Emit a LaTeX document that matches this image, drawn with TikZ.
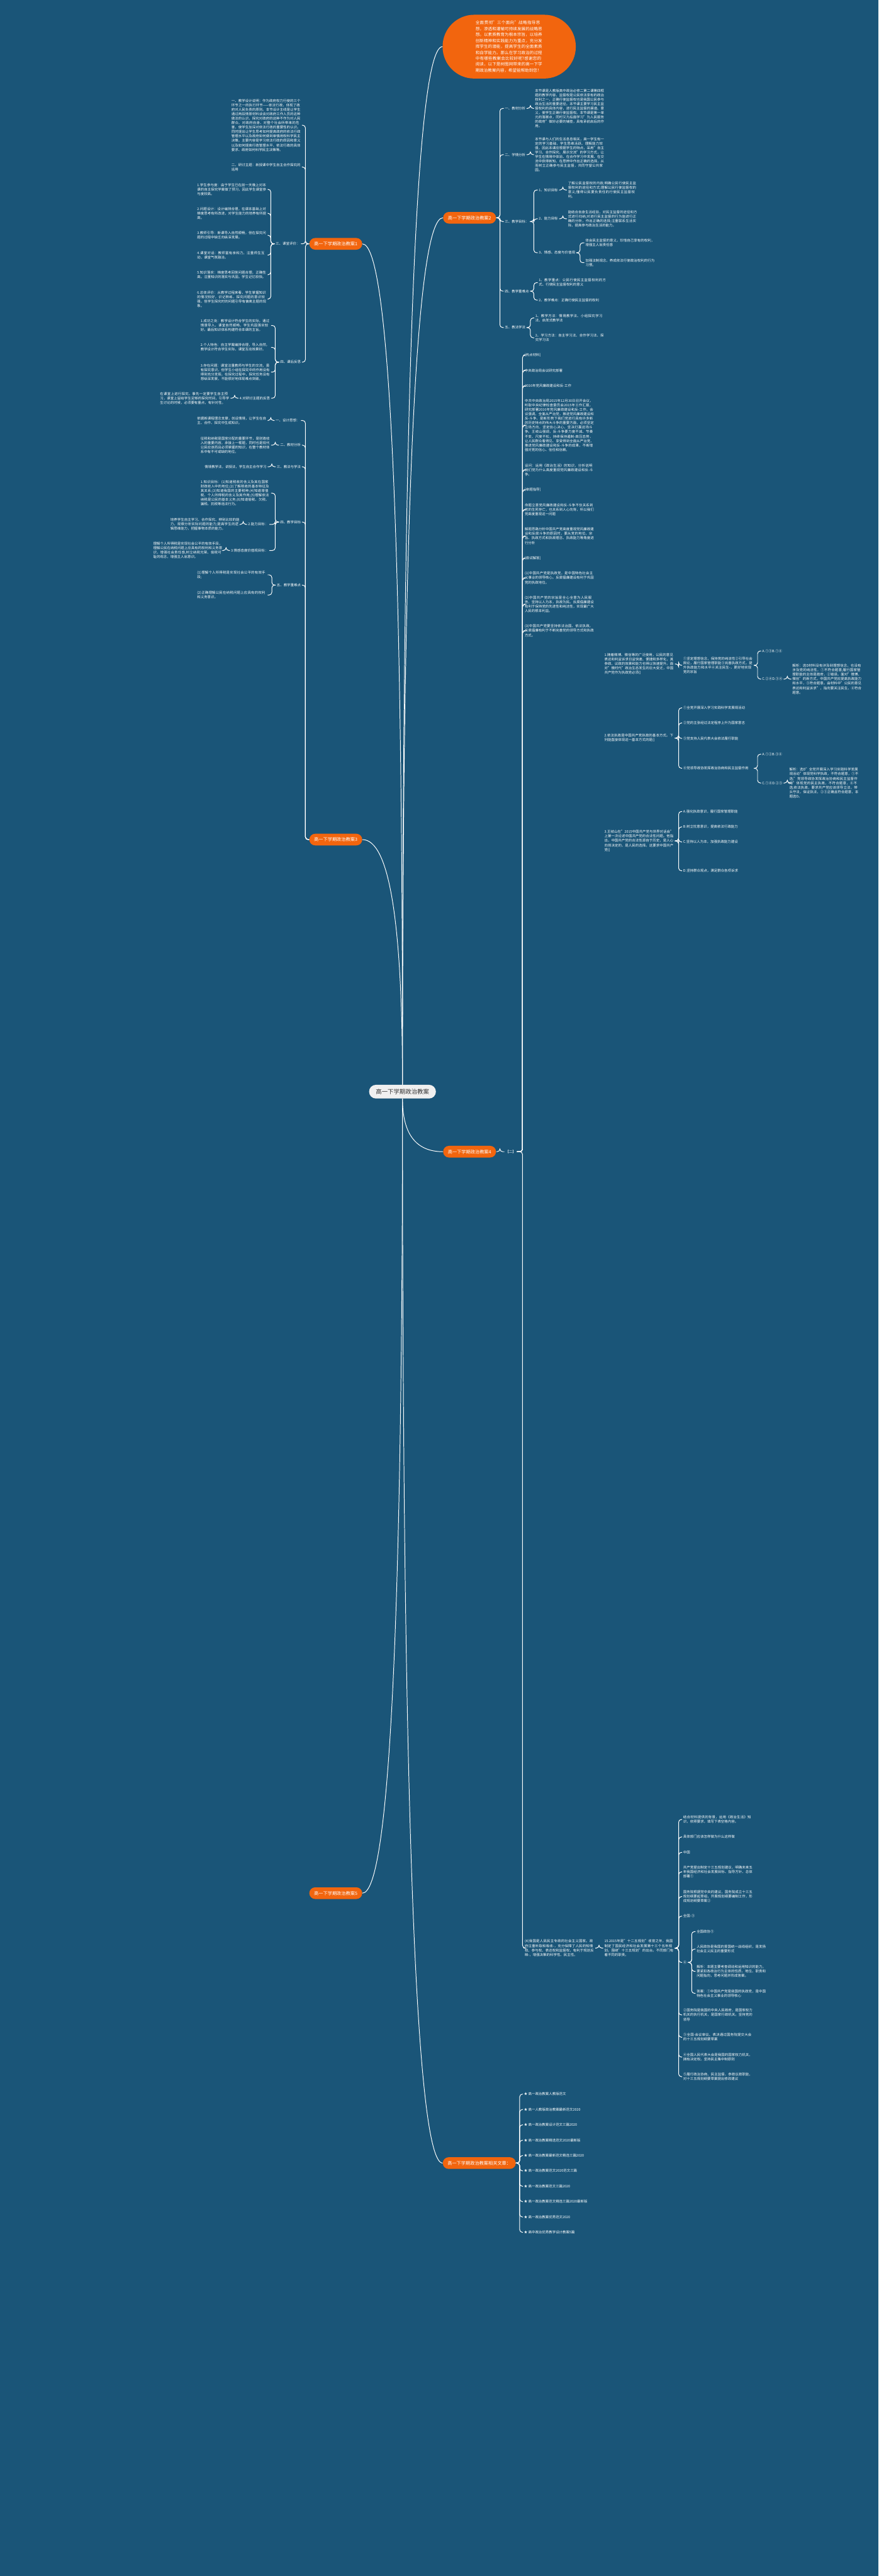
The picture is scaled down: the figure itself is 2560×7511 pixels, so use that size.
\documentclass[tikz,border=0pt]{standalone}
\usepackage{fontspec}
\setmainfont{Noto Sans CJK SC}
\XeTeXlinebreaklocale "zh"
\XeTeXlinebreakskip=0pt plus 1pt
\usetikzlibrary{calc,positioning}

\definecolor{mapbg}{RGB}{26,85,120}
\definecolor{mmorange}{RGB}{242,101,14}
\definecolor{hubgray}{RGB}{240,240,240}
\definecolor{hubtext}{RGB}{51,51,51}

\newcommand\leaffont{\fontsize{5}{6.5}\selectfont}
\newcommand\brfont{\fontsize{6.6}{8}\selectfont}
\newcommand\hubfont{\fontsize{8.6}{10}\selectfont}
\newcommand\bubfont{\fontsize{6}{8.65}\selectfont}

\tikzset{
  link/.style={draw=white, line width=0.9pt, rounded corners=4pt},
  curve/.style={draw=white, line width=0.9pt},
  tag/.style={text=white, font=\leaffont, inner xsep=1.5pt, inner ysep=0pt},
  leaf/.style={tag, align=left, text width=101pt},
  branch/.style={fill=mmorange, text=white, font=\brfont, rounded corners=8.5pt,
    minimum height=17pt, inner xsep=7pt},
  hubnode/.style={fill=hubgray, text=hubtext, font=\hubfont, rounded corners=10pt,
    minimum height=20pt, inner xsep=10pt},
  bubble/.style={fill=mmorange, text=white, font=\bubfont, rounded corners=46pt,
    minimum width=194pt, minimum height=93pt, align=left, text width=98pt},
}

% elbow links: parent -> child, right and left
\newcommand\linkR[3][11]{\draw[link] (#2.east) -- ++(#1,0) |- (#3.west);}
\newcommand\linkL[3][11]{\draw[link] (#2.west) -- ++(-#1,0) |- (#3.east);}
% curved link from the hub
\newcommand\hubto[2]{%
  \coordinate (hk) at (hub.center |- #2);
  \draw[curve] (#1) .. controls ($(#1)!2/3!(hk)$) and ($(#2)!2/3!(hk)$) .. (#2);}

\begin{document}
\begin{tikzpicture}[x=0.5pt, y=-0.5pt]
\fill[mapbg] (0,0) rectangle (2560,7511);
\useasboundingbox (0,0) rectangle (2560,7511);

% hub and main branches
\node[hubnode] (hub) at (1173,3183) {高一下学期政治教案};
\node[bubble] (bub) at (1484,136) {全面贯彻"三个面向"战略指导思想，渗透和灌输可持续发展的战略思想。以素质教育为根本宗旨，以培养创新精神和实践能力为重点，充分发挥学生的潜能，提高学生的全面素质和自学能力。那么在学习政治的过程中有哪些教案会比较好呢?感谢您的阅读，以下是树图网带来的高一下学期政治教案内容，希望能帮助到您！};
\node[branch, anchor=west] (b2) at (1291,635) {高一下学期政治教案2};
\node[branch, anchor=east] (b1) at (1056,711) {高一下学期政治教案1};
\node[branch, anchor=east] (b3) at (1056,2448) {高一下学期政治教案3};
\node[branch, anchor=west] (b4) at (1291,3358) {高一下学期政治教案4};
\node[branch, anchor=east] (b5) at (1056,5520) {高一下学期政治教案5};
\node[branch, anchor=west] (rel) at (1290,6307) {高一下学期政治教案相关文章：};

\hubto{hub.north}{bub.west}
\hubto{hub.north}{b2.west}
\hubto{hub.north}{b1.east}
\hubto{hub.north}{b3.east}
\hubto{hub.south}{b4.west}
\hubto{hub.south}{b5.east}
\hubto{hub.south}{rel.west}

% ---- branch 2
\node[tag, anchor=west] (b2a) at (1468,316) {一、教材分析};
\node[leaf, anchor=west] (b2a1) at (1556,316) {本节课是人教版高中政治必修二第二课第四框题的教学内容。监督权是公民依法享有的政治权利之一，正确行使监督权也是我国公民参与政治生活的重要途径。本节课主要学习民主监督权利的具体内容，进行民主监督的渠道、意义，使学生正确行使监督权。本节课是第一单元的落脚点，同时又为后面学习"为人民服务的政府"做好必要的铺垫，具有承前启后的作用。};
\node[tag, anchor=west] (b2b) at (1468,451) {二、学情分析};
\node[leaf, anchor=west] (b2b1) at (1556,451) {本节课与人们的生活息息相关，高一学生有一定的学习基础，学生思维活跃、理解能力较强，因此本课应根据学生的特点，采用"自主学习、合作探究、展示交流"的学习方式，让学生在情境中体验、在合作学习中发展、在交流中获得新知、在思辨中作出正确的选择，从而树立正确参与民主监督，共同守望公共家园。};
\node[tag, anchor=west] (b2c) at (1468,646) {三、教学目标：};
\node[tag, anchor=west] (b2c1) at (1567,554) {1、知识目标};
\node[leaf, anchor=west] (b2c1a) at (1652,554) {了解公民监督权的内容;明确公民行使民主监督权利的途径和方式;理解公民行使监督权的意义;懂得公民要负责任的行使民主监督权利。};
\node[tag, anchor=west] (b2c2) at (1567,638) {2、能力目标};
\node[leaf, anchor=west] (b2c2a) at (1652,638) {能结合自身生活经验，对民主监督的途径和方式进行归纳;对进行民主监督的行为能进行正确的分析，作出正确的选择;注重联系生活实际，提高参与政治生活的能力。};
\node[tag, anchor=west] (b2c3) at (1567,737) {3、情感、态度与价值观};
\node[leaf, anchor=west] (b2c3a) at (1703,708) {体会民主监督的意义，珍惜自己享有的权利，增强主人翁责任感};
\node[leaf, anchor=west] (b2c3b) at (1703,766) {加强法制观念，养成依法行使政治权利的行为习惯。};
\node[tag, anchor=west] (b2d) at (1468,849) {四、教学重难点};
\node[leaf, anchor=west] (b2d1) at (1567,824) {1、教学重点：公民行使民主监督权利的方式、行使民主监督权利的意义};
\node[leaf, anchor=west] (b2d2) at (1567,875) {2、教学难点：正确行使民主监督的权利};
\node[tag, anchor=west] (b2e) at (1468,955) {五、教法学法};
\node[leaf, anchor=west] (b2e1) at (1557,927) {1、教学方法：情境教学法、小组探究学习法、启发式教学法};
\node[leaf, anchor=west] (b2e2) at (1557,985) {2、学习方法：自主学习法、合作学习法、探究学习法};

\foreach \c in {b2a,b2b,b2c,b2d,b2e} {\linkR{b2}{\c}}
\linkR{b2a}{b2a1}
\linkR{b2b}{b2b1}
\foreach \c in {b2c1,b2c2,b2c3} {\linkR{b2c}{\c}}
\linkR{b2c1}{b2c1a}
\linkR{b2c2}{b2c2a}
\linkR{b2c3}{b2c3a}
\linkR{b2c3}{b2c3b}
\linkR{b2d}{b2d1}
\linkR{b2d}{b2d2}
\linkR{b2e}{b2e1}
\linkR{b2e}{b2e2}

% ---- branch 1
\node[leaf, anchor=east] (b1a) at (880,365) {一、教学设计说明：作为政府权力行使的三个环节之一的执行环节——依法行政，体现了政府对人民负责的原则。本节设计主线是让学生通过两段情景材料谈谈对政府工作人员的这种做法的认识，探究对政府的这种不作为对人民群众、对政府自身、对整个社会所带来的危害，使学生加深对依法行政的重要性的认识。同时提出让学生思考如何提高政府的依法行政管理水平以及政府如何做到审慎用权科学民主决策。主要内容是学习依法行政的原因和意义以及如何提高行政管理水平、依法行政的具体要求、政府如何科学民主决策等。};
\node[leaf, anchor=east] (b1b) at (880,487) {二、研讨主题：新授课中学生自主合作探究的运用};
\node[tag, anchor=east] (b1c) at (877,711) {三、课堂评价：};
\node[leaf, anchor=east] (b1c1) at (780,552) {1.学生参与度：由于学生已在前一天晚上对本课的自主探究学案做了预习，因此学生课堂参与度较高。};
\node[leaf, anchor=east] (b1c2) at (780,622) {2.问题设计：设计编排合理，在课本基础上对梯度思考有所改进，对学生能力的培养有所提高。};
\node[leaf, anchor=east] (b1c3) at (780,686) {3.教师引导：新课导入自然顺畅，但在探究问题的过程中缺乏向纵深发展。};
\node[leaf, anchor=east] (b1c4) at (780,744) {4.课堂对话：教师富有亲和力，注重师生互动，课堂气氛融洽。};
\node[leaf, anchor=east] (b1c5) at (780,801) {5.知识落实：梯度思考回答问题合理，正确性高。注重知识的落实与巩固。学生记忆较快。};
\node[leaf, anchor=east] (b1c6) at (780,872) {6.总体评价：从教学过程来看，学生掌握知识的情况较好，识记熟练，探究问题的意识较强，但学生探究时的问题引导有偏离主题的现象。};
\node[tag, anchor=east] (b1d) at (880,1056) {四、课后反思};
\node[leaf, anchor=east] (b1d1) at (790,949) {1.成功之处：教学设计符合学生的实际，通过情景导入，课堂自然顺畅，学生巩固落实较好。最后知识体系构建符合本课的主旨。};
\node[leaf, anchor=east] (b1d2) at (790,1013) {2.个人特色：自主学案编排合理，导入自然。教学设计符合学生实际，课堂互动效果好。};
\node[leaf, anchor=east] (b1d3) at (790,1085) {3.存在问题：课堂注重教师与学生的交流，虽有探究意识，但学生小组在探究中的作用没有得到充分发挥。在探究过程中，探究任务没有想纵深发展，不能很好地体现难点突破。};
\node[tag, anchor=east] (b1d4) at (790,1161) {4.对研讨主题的反思};
\node[leaf, anchor=east] (b1d4a) at (672,1161) {在课堂上进行探究，事先一定要学生自主预习，课堂上留给学生足够的探究时间，引导学生讨论的时候，必须要有重点，有针对性。};

\foreach \c in {b1a,b1b,b1c,b1d} {\linkL{b1}{\c}}
\foreach \c in {b1c1,b1c2,b1c3,b1c4,b1c5,b1c6} {\linkL{b1c}{\c}}
\foreach \c in {b1d1,b1d2,b1d3,b1d4} {\linkL{b1d}{\c}}
\linkL{b1d4}{b1d4a}

% ---- branch 3
\node[tag, anchor=east] (b3a) at (877,1226) {一、设计思想：};
\node[leaf, anchor=east] (b3a1) at (780,1226) {依据新课程理念支撑，创设情境，让学生在自主、合作、探究中生成知识。};
\node[tag, anchor=east] (b3b) at (880,1298) {二、教材分析};
\node[leaf, anchor=east] (b3b1) at (790,1298) {征税和纳税是国家分配的重要环节，是财政收入的重要内容，承接上一框题，同时也是现代公民应该而且必须掌握的知识，在整个教材体系中有不可或缺的地位。};
\node[tag, anchor=east] (b3c) at (880,1361) {三、教法与学法};
\node[tag, anchor=east] (b3c1) at (780,1361) {情境教学法，讲授法，学生自主合作学习};
\node[tag, anchor=east] (b3d) at (880,1522) {四、教学目标};
\node[leaf, anchor=east] (b3d1) at (790,1438) {1.知识目标：(1)知道税收的含义及其在国家财政收入中的地位;(2)了解税收的基本特征及其关系;(3)知道我国的主要税种;(4)知道增值税、个人所得税的含义及其作用;(5)理解依法纳税是公民的基本义务;(6)知道偷税、欠税、骗税、抗税等违法行为。};
\node[tag, anchor=east] (b3d2) at (785,1529) {2.能力目标：};
\node[leaf, anchor=east] (b3d2a) at (702,1529) {培养学生自主学习、合作探究、辨别比较的能力，观察分析实际问题的能力;提高学生的逻辑思维能力，把握事物本质的能力。};
\node[tag, anchor=east] (b3d3) at (785,1605) {3.情感态度价值观目标：};
\node[leaf, anchor=east] (b3d3a) at (652,1605) {理解个人所得税是实现社会公平的有效手段，理解公民在纳税问题上应具有的权利和义务意识，增强社会责任感,树立纳税光荣、偷税可耻的观念，增强主人翁意识。};
\node[tag, anchor=east] (b3e) at (880,1706) {五、教学重难点};
\node[leaf, anchor=east] (b3e1) at (780,1676) {(1)理解个人所得税是实现社会公平的有效手段;};
\node[leaf, anchor=east] (b3e2) at (780,1735) {(2)正确理解公民在纳税问题上应具有的权利和义务意识。};

\foreach \c in {b3a,b3b,b3c,b3d,b3e} {\linkL{b3}{\c}}
\linkL{b3a}{b3a1}
\linkL{b3b}{b3b1}
\linkL{b3c}{b3c1}
\foreach \c in {b3d1,b3d2,b3d3} {\linkL{b3d}{\c}}
\linkL{b3d2}{b3d2a}
\linkL{b3d3}{b3d3a}
\linkL{b3e}{b3e1}
\linkL{b3e}{b3e2}

% ---- branch 4
\node[tag, anchor=west] (b4a) at (1470,3358) {【二】};
\linkR{b4}{b4a}
\node[tag, anchor=west] (q01) at (1526,1035) {[热点材料]};
\node[tag, anchor=west] (q02) at (1526,1080) {中央政治局会议研究部署};
\node[tag, anchor=west] (q03) at (1526,1125) {2016年党风廉政建设和反-工作};
\node[leaf, anchor=west] (q04) at (1526,1240) {中共中央政治局2015年12月30日召开会议，听取中央纪律检查委员会2015年工作汇报，研究部署2016年党风廉政建设和反-工作。会议强调，全面从严治党，推进党风廉政建设和反-斗争，是新形势下我们党进行具有许多新的历史特点的伟大斗争的重要方面，必须坚定立场方向，坚定信心决心，坚决打赢这场斗争。王岐山强调，反-斗争要力度不减、节奏不变、尺度不松，持续保持遏制-高压态势，让人民群众看得见、享受得到全面从严治党、推进党风廉政建设和反-斗争的成果，不断增强对党的信心、信任和信赖。};
\node[leaf, anchor=west] (q05) at (1526,1370) {设问：运用《政治生活》的知识，分析说明我们党为什么高度重视党风廉政建设和反-斗争。};
\node[tag, anchor=west] (q06) at (1526,1428) {[审题指导]};
\node[leaf, anchor=west] (q07) at (1526,1486) {命题立意党风廉政建设和反-斗争不仅关系到党的生死存亡，也关系到人心向背，所以我们党高度重视这一问题};
\node[leaf, anchor=west] (q08) at (1526,1563) {解题思路分析中国共产党高度重视党风廉政建设和反腐斗争的原因时，要从党的地位、宗旨、执政方式和执政理念、执政能力等角度进行分析};
\node[tag, anchor=west] (q09) at (1526,1627) {[尝试解答]};
\node[leaf, anchor=west] (q10) at (1526,1685) {(1)中国共产党是执政党，是中国特色社会主义事业的领导核心。反腐倡廉建设有利于巩固党的执政地位。};
\node[leaf, anchor=west] (q11) at (1526,1762) {(2)中国共产党的宗旨是全心全意为人民服务，坚持以人为本，执政为民。反腐倡廉建设有利于保持党的先进性和纯洁性，实现最广大人民的根本利益。};
\node[leaf, anchor=west] (q12) at (1526,1839) {(3)中国共产党要坚持依法治国、依法执政。反腐倡廉有利于不断完善党的领导方式和执政方式。};
\node[leaf, anchor=west] (q40) at (1526,5680) {(4)我国是人民民主专政的社会主义国家。政府注重听取和吸收-，充分保障了人民的知情权、参与权、表达权和监督权，有利于规划反映-，增强决策的科学性、民主性。};
\foreach \c in {q01,q02,q03,q04,q05,q06,q07,q08,q09,q10,q11,q12,q40} {\linkR[16]{b4a}{\c}}

% questions 1-3
\node[leaf, anchor=west] (t1) at (1758,1936) {1.随着微博、微信等的广泛使用，公民的意见表达和利益诉求日益快速、便捷和多样化，其参政、议政的效果和能力也得以快速提升。面对"微时代"政治生态发生的巨大变迁，中国共产党作为执政党必须()};
\node[leaf, anchor=west] (t1a) at (1988,1940) {①坚定理想信念，保持党的纯洁性②引导社会舆论，履行国家管理职能③完善执政方式，提升执政能力和水平④关注民生-，更好地实现党的宗旨};
\node[tag, anchor=west] (t1a1) at (2218,1898) {A.①③B.①④};
\node[tag, anchor=west] (t1a2) at (2218,1980) {C.②④D.③④};
\node[leaf, anchor=west] (t1a2a) at (2306,1980) {解析：选D材料没有涉及到理想信念，也没有涉及党的纯洁性，①不符合题意;履行国家管理职能的主体是政府，②错误。面对"微博、微信"的新方式，中国共产党应提高执政能力和水平，③符合题意。由材料中"公民的意见表达和利益诉求"，指向要关注民生，④符合题意。};
\linkR{t1}{t1a}
\linkR{t1a}{t1a1}
\linkR{t1a}{t1a2}
\linkR{t1a2}{t1a2a}

\node[leaf, anchor=west] (t2) at (1758,2152) {2.依法执政是中国共产党执政的基本方式。下列能直接体现这一基本方式的是()};
\node[tag, anchor=west] (t2a) at (1988,2064) {①全党开展深入学习实践科学发展观活动};
\node[tag, anchor=west] (t2b) at (1988,2108) {②党的主张经过法定程序上升为国家意志};
\node[tag, anchor=west] (t2c) at (1988,2153) {③党支持人民代表大会依法履行职能};
\node[leaf, anchor=west] (t2d) at (1988,2240) {④党领导政协发挥政治协商和民主监督作用};
\node[tag, anchor=west] (t2d1) at (2218,2199) {A.①②B.③④};
\node[tag, anchor=west] (t2d2) at (2218,2283) {C.①④D.②③};
\node[leaf, anchor=west] (t2d2a) at (2297,2283) {解析：选D"全党开展深入学习实践科学发展观活动"体现党科学执政，不符合题意，①不选;"党领导政协发挥政治协商和民主监督作用"体现党的民主执政，不符合题意，④不选;依法执政，要求共产党应该领导立法，带头守法，保证执法，②③正确且符合题意，本题选D。};
\foreach \c in {t2a,t2b,t2c,t2d} {\linkR{t2}{\c}}
\linkR{t2d}{t2d1}
\linkR{t2d}{t2d2}
\linkR{t2d2}{t2d2a}

\node[leaf, anchor=west] (t3) at (1758,2452) {3.王岐山在"2015中国共产党与世界对话会"上第一次论述中国共产党的合法性问题。他指出，中国共产党的合法性源自于历史，是人心向背决定的，是人民的选择。这要求中国共产党()};
\node[tag, anchor=west] (t3a) at (1988,2366) {A.强化执政意识，履行国家管理职能};
\node[tag, anchor=west] (t3b) at (1988,2411) {B.树立忧患意识，提高依法行政能力};
\node[tag, anchor=west] (t3c) at (1988,2455) {C.坚持以人为本，加强执政能力建设};
\node[tag, anchor=west] (t3d) at (1988,2539) {D.坚持群众观点，满足群众各项诉求};
\foreach \c in {t3a,t3b,t3c,t3d} {\linkR{t3}{\c}}

% question 15
\node[leaf, anchor=west] (t15) at (1758,5680) {15.2015年是"十二五规划"收官之年，我国制定了国民经济和社会发展第十三个五年规划。围绕"十三五规划"的出台。不同部门有着不同的职责。};
\linkR{q40}{t15}
\node[leaf, anchor=west] (t15a) at (1988,5305) {结合材料提供的背景，运用《政治生活》知识，依照要求，填写下表空格内容。};
\node[tag, anchor=west] (t15b) at (1988,5356) {具体部门应该怎样做为什么这样做};
\node[tag, anchor=west] (t15c) at (1988,5401) {中国};
\node[leaf, anchor=west] (t15d) at (1988,5458) {共产党提出制定十三五规划建议，明确未来五年我国经济和社会发展目标、指导方针、总体部署①};
\node[leaf, anchor=west] (t15e) at (1988,5530) {国务院根据党中央的建议，国务院成立十三五规划纲要起草组，开展规划纲要编制工作，形成规划纲要草案②};
\node[tag, anchor=west] (t15f) at (1988,5587) {全国-③};
\node[tag, anchor=west] (t15g) at (1988,5722) {④};
\node[leaf, anchor=west] (t15h) at (1988,5875) {②国务院是我国的中央人民政府，是国家权力机关的执行机关，是国家行政机关。坚持党的领导};
\node[leaf, anchor=west] (t15i) at (1988,5940) {③全国-会议审议、表决通过国务院提交大会的十三五规划纲要草案};
\node[leaf, anchor=west] (t15j) at (1988,5998) {④全国人民代表大会是我国的国家权力机关，拥有决定权。坚持民主集中制原则};
\node[leaf, anchor=west] (t15k) at (1988,6055) {⑤履行政治协商、民主监督、参政议政职能，对十三五规划纲要草案提出修改建议};
\foreach \c in {t15a,t15b,t15c,t15d,t15e,t15f,t15g,t15h,t15i,t15j,t15k} {\linkR{t15}{\c}}
\node[tag, anchor=west] (t15g1) at (2027,5632) {全国政协⑤};
\node[leaf, anchor=west] (t15g2) at (2027,5683) {人民政协是我国的爱国统一战线组织，是发扬社会主义民主的重要形式};
\node[leaf, anchor=west] (t15g3) at (2027,5748) {解析：本题主要考查调动和运用知识的能力。要紧扣各政治行为主体的性质、地位、职责和问题指向，思考问题并形成答案。};
\node[leaf, anchor=west] (t15g4) at (2027,5812) {答案：①中国共产党是我国的执政党，是中国特色社会主义事业的领导核心};
\foreach \c in {t15g1,t15g2,t15g3,t15g4} {\linkR{t15g}{\c}}

% ---- related articles
\foreach \t [count=\i] in {高一政治教案人教版范文, 高一人教版政治教案最新范文2020,
  高一政治教案设计范文三篇2020, 高一政治教案精选范文2020最新版,
  高一政治教案最新范文精选三篇2020, 高一政治教案范文2020范文三篇,
  高一政治教案范文三篇2020, 高一政治教案范文精选三篇2020最新版,
  高一政治教案优秀范文2020, 高中政治优秀教学设计教案5篇} {
  \node[tag, anchor=west] (r\i) at (1524,6061+44.8*\i) {★ \t};
  \linkR{rel}{r\i}
}
\end{tikzpicture}
\end{document}
